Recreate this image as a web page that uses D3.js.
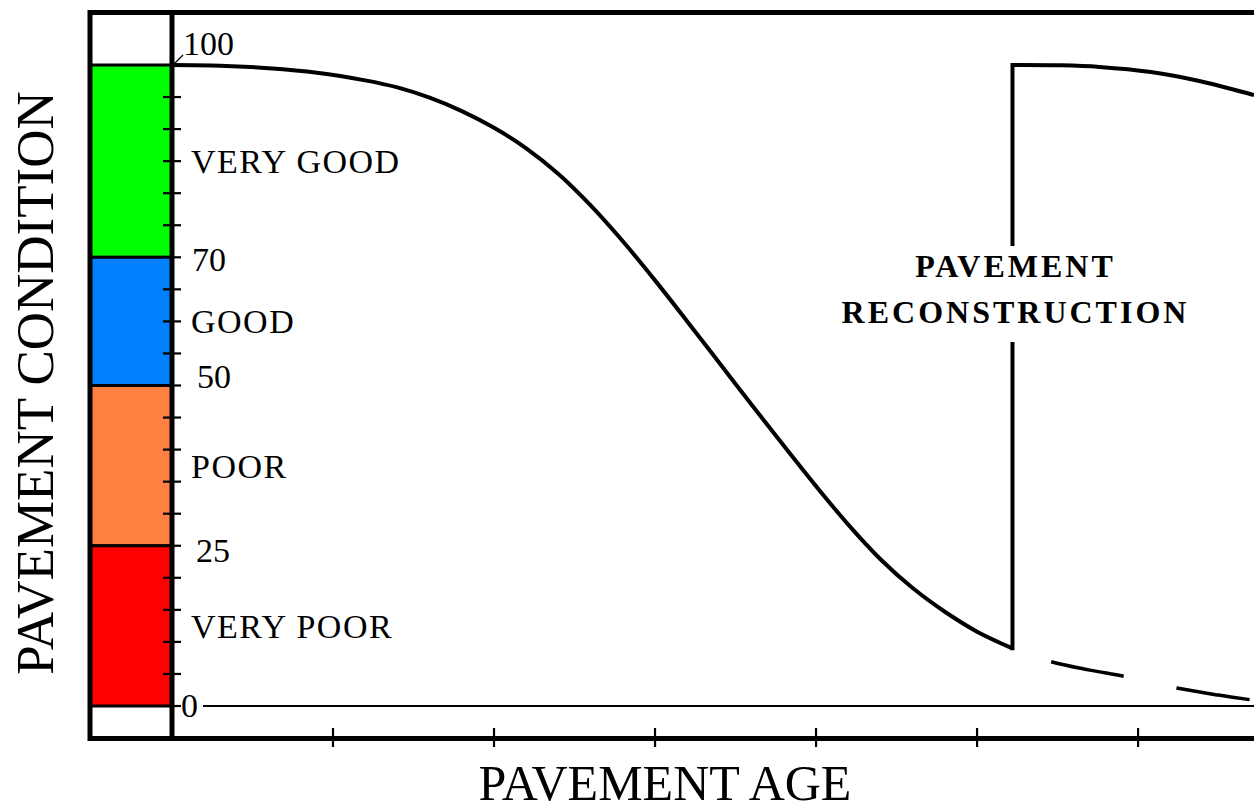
<!DOCTYPE html>
<html>
<head>
<meta charset="utf-8">
<script src="https://cdn.jsdelivr.net/npm/d3@7"></script>
<style>
  html, body { margin: 0; padding: 0; background: #fff; }
  svg { display: block; }
  text { font-family: "Liberation Serif", "Times New Roman", serif; fill: #000; }
</style>
</head>
<body>
<svg id="chart" width="1254" height="811"></svg>
<script>
// ---------------- DATA ----------------
const bandNames  = ["VERY GOOD", "GOOD", "POOR", "VERY POOR"];
const bandLow    = [70, 50, 25, 0];
const bandHigh   = [100, 70, 50, 25];
const bandColors = ["#00ff00", "#0080ff", "#ff8040", "#ff0000"];
const yTickLabels = [100, 70, 50, 25, 0];
const yMinorTicks = [95, 90, 85, 80, 75, 65, 60, 55, 45, 40, 35, 30, 20, 15, 10, 5];
const xTicks = [5, 10, 15, 20, 25, 30];

// condition curve before reconstruction: [age, condition]
const ageOriginal  = [0, 1.5, 3, 4.5, 6, 7, 8, 9, 10, 11, 12, 13, 14, 15, 16, 17, 18, 19, 20, 21, 22, 23, 24, 25, 26.1];
const condOriginal = [100, 99.9, 99.5, 98.8, 97.6, 96.5, 94.9, 92.8, 90.2, 87.0, 83.0, 78.1, 72.5, 66.4, 60.0, 53.5, 47.0, 40.6, 34.3, 28.3, 22.9, 18.4, 14.7, 11.6, 9.0];
// continued deterioration without reconstruction (dashed)
const ageNoAction  = [26.1, 27.3, 28.5, 29.6, 31.2, 32.5, 33.6];
const condNoAction = [9.0, 6.9, 5.6, 4.6, 2.8, 1.7, 0.9];
// after reconstruction
const reconstructionAge = 26.1;
const ageAfter  = [26.1, 27.6, 28.8, 30.4, 31.9, 33.6];
const condAfter = [100, 99.95, 99.7, 98.9, 97.5, 95.3];

const xTitle = "PAVEMENT AGE";
const yTitle = "PAVEMENT CONDITION";
const annotation = ["PAVEMENT", "RECONSTRUCTION"];

// ---------------- LAYOUT ----------------
const svg = d3.select("#chart");
const axisX = 172, frameLeft = 90, frameTop = 12.5, frameBottom = 738.5, frameRight = 1262;
const x = d3.scaleLinear().domain([0, 33.6]).range([axisX, 1254]);
const y = d3.scaleLinear().domain([0, 100]).range([706, 65]);

// colour bands
bandNames.forEach((n, i) => {
  svg.append("rect")
    .attr("x", frameLeft).attr("width", axisX - frameLeft)
    .attr("y", y(bandHigh[i])).attr("height", y(bandLow[i]) - y(bandHigh[i]))
    .attr("fill", bandColors[i]).attr("stroke", "#000").attr("stroke-width", 3);
});

// zero line
svg.append("line")
  .attr("x1", 203).attr("x2", 1254).attr("y1", y(0)).attr("y2", y(0))
  .attr("stroke", "#000").attr("stroke-width", 2.2);

// frame
const frame = svg.append("g").attr("stroke", "#000").attr("stroke-width", 5).attr("fill", "none");
frame.append("rect").attr("x", frameLeft).attr("y", frameTop)
  .attr("width", frameRight - frameLeft).attr("height", frameBottom - frameTop);
frame.append("line").attr("x1", axisX).attr("x2", axisX).attr("y1", frameTop).attr("y2", frameBottom);

// y ticks
svg.append("g").selectAll("line").data(yMinorTicks).join("line")
  .attr("x1", 163).attr("x2", 181).attr("y1", d => y(d)).attr("y2", d => y(d))
  .attr("stroke", "#000").attr("stroke-width", 2.2);
svg.append("g").selectAll("line").data(yTickLabels.filter(d => d !== 100)).join("line")
  .attr("x1", axisX).attr("x2", 181).attr("y1", d => y(d)).attr("y2", d => y(d))
  .attr("stroke", "#000").attr("stroke-width", 2.2);
// leader for 100
svg.append("line").attr("x1", axisX + 2).attr("y1", y(100) - 1).attr("x2", 183).attr("y2", y(100) - 10)
  .attr("stroke", "#000").attr("stroke-width", 1.3);

// y tick labels (hand-placed offsets as in original)
const numLayout = {100: [183, -10], 70: [192, 14], 50: [197, 2], 25: [196, 16], 0: [181, 11]};
svg.append("g").selectAll("text").data(yTickLabels).join("text")
  .attr("x", d => numLayout[d][0]).attr("y", d => y(d) + numLayout[d][1])
  .attr("font-size", 34).text(d => d);

// band labels
svg.append("g").selectAll("text").data(bandNames).join("text")
  .attr("x", 191).attr("y", (d, i) => y((bandLow[i] + bandHigh[i]) / 2) + 12)
  .attr("font-size", 34).attr("letter-spacing", 1.5).text(d => d);

// x ticks
svg.append("g").selectAll("line").data(xTicks).join("line")
  .attr("x1", d => x(d)).attr("x2", d => x(d)).attr("y1", 728).attr("y2", 747)
  .attr("stroke", "#000").attr("stroke-width", 2.2);

// curves
const line = d3.line().x(d => x(d[0])).y(d => y(d[1])).curve(d3.curveCatmullRom.alpha(0.5));
const stroke = (p) => p.attr("fill", "none").attr("stroke", "#000").attr("stroke-width", 4);

svg.append("path").datum(ageOriginal.map((a, i) => [a, condOriginal[i]]))
  .attr("d", line).call(stroke);

svg.append("path").datum(ageNoAction.map((a, i) => [a, condNoAction[i]]))
  .attr("d", line).call(stroke).attr("stroke-width", 3.5)
  .attr("stroke-dasharray", "74 54").attr("stroke-dashoffset", -41);

const lastCond = condOriginal[condOriginal.length - 1];
svg.append("path").datum([[reconstructionAge, lastCond], [reconstructionAge, 100]])
  .attr("d", d3.line().x(d => x(d[0])).y(d => y(d[1])))
  .call(stroke).attr("stroke-linecap", "square");

svg.append("path").datum(ageAfter.map((a, i) => [a, condAfter[i]]))
  .attr("d", line).call(stroke);

// annotation with white background
const ann = svg.append("g");
const bg = ann.append("rect").attr("fill", "#fff");
const annText = ann.append("text").attr("text-anchor", "middle")
  .attr("font-size", 32).attr("font-weight", "bold").attr("letter-spacing", 3);
annotation.forEach((t, i) => {
  annText.append("tspan").attr("x", x(reconstructionAge) + 3).attr("y", 277 + i * 46).text(t);
});
const bb = annText.node().getBBox();
bg.attr("x", bb.x).attr("y", bb.y - 2).attr("width", bb.width).attr("height", bb.height + 14);

// axis titles
svg.append("text").attr("x", 665).attr("y", 800).attr("text-anchor", "middle")
  .attr("font-size", 50).text(xTitle);
svg.append("text").attr("transform", "translate(53,383) rotate(-90)").attr("text-anchor", "middle")
  .attr("font-size", 53).text(yTitle);
</script>
</body>
</html>
